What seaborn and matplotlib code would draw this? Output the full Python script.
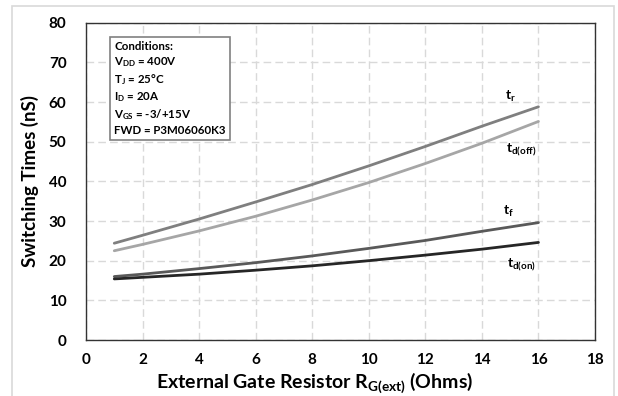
import matplotlib
matplotlib.use("Agg")
import matplotlib.pyplot as plt
import seaborn as sns
import pandas as pd
from matplotlib.patches import Rectangle

# Data
rg = [1, 2, 4, 6, 8, 10, 12, 14, 16]
t_r = [24.4, 26.4, 30.5, 34.8, 39.2, 43.9, 48.8, 53.9, 58.8]
t_doff = [22.5, 24.1, 27.5, 31.2, 35.3, 39.7, 44.5, 49.6, 55.1]
t_f = [16.0, 16.6, 18.0, 19.5, 21.2, 23.1, 25.1, 27.4, 29.6]
t_don = [15.4, 15.8, 16.6, 17.6, 18.7, 20.0, 21.4, 22.9, 24.6]
series_names = ["t_r", "t_d(off)", "t_f", "t_d(on)"]
x_ticks = list(range(0, 19, 2))
y_ticks = list(range(0, 81, 10))

df = pd.concat([
    pd.DataFrame({"rg": rg, "t": vals, "s": name})
    for name, vals in zip(series_names, [t_r, t_doff, t_f, t_don])
])

sns.set_theme(style="white")
FONT = "Lato"
plt.rcParams["font.family"] = [FONT, "DejaVu Sans"]
plt.rcParams["mathtext.fontset"] = "custom"
plt.rcParams["mathtext.rm"] = FONT + ":bold"
plt.rcParams["mathtext.it"] = FONT + ":bold"
plt.rcParams["mathtext.bf"] = FONT + ":bold"

fig = plt.figure(figsize=(6.18, 3.96), dpi=100)
ax = fig.add_axes([86 / 618, 56 / 396, 509 / 618, (340 - 22.7) / 396])

palette = {"t_r": "#7f7f7f", "t_d(off)": "#a6a6a6", "t_f": "#595959", "t_d(on)": "#262626"}
sns.lineplot(data=df, x="rg", y="t", hue="s", palette=palette, linewidth=2.0,
             legend=False, ax=ax, zorder=3)

ax.set_xlim(0, 18)
ax.set_ylim(0, 80)
ax.set_xticks(x_ticks)
ax.set_yticks(y_ticks)
ax.tick_params(axis="both", length=0, labelsize=11)
ax.tick_params(axis="x", pad=9)
ax.tick_params(axis="y", pad=14)
for lbl in ax.get_xticklabels() + ax.get_yticklabels():
    lbl.set_fontweight("bold")
    lbl.set_color("black")

ax.grid(True, color="#d9d9d9", linestyle=(0, (5.5, 3)), linewidth=1.0, zorder=0)
for sp in ax.spines.values():
    sp.set_color("#333333")
    sp.set_linewidth(1.0)

ax.set_xlabel("External Gate Resistor R$_{\\mathregular{G(ext)}}$ (Ohms)",
              fontsize=14, fontweight="bold", color="black")
ax.set_ylabel("Switching Times (nS)", fontsize=13.5, fontweight="bold", color="black")
ax.xaxis.set_label_coords(0.45, -0.095)
ax.yaxis.set_label_coords(-0.092, 0.5)

# Curve labels
lab_kw = dict(fontsize=10, fontweight="bold", color="black", ha="center", va="center")
ax.text(15.0, 61.3, "t$_{\\mathregular{r}}$", **lab_kw)
ax.text(15.4, 48.0, "t$_{\\mathregular{d(off)}}$", **lab_kw)
ax.text(14.95, 32.3, "t$_{\\mathregular{f}}$", **lab_kw)
ax.text(15.4, 18.9, "t$_{\\mathregular{d(on)}}$", **lab_kw)

# Conditions box
cond = ["Conditions:",
        "V$_{\\mathregular{DD}}$ = 400V",
        "T$_{\\mathregular{J}}$ = 25°C",
        "I$_{\\mathregular{D}}$ = 20A",
        "V$_{\\mathregular{GS}}$ = -3/+15V",
        "FWD = P3M06060K3"]
ax.text(1.0, 75.3, "\n".join(cond), fontsize=8.3, fontweight="bold", color="black",
        ha="left", va="top", linespacing=1.3,
        bbox=dict(boxstyle="square,pad=0.4", facecolor="white", edgecolor="#808080",
                  linewidth=1.2), zorder=5)

# Outer light border of the figure
fig.patches.append(Rectangle((12 / 618, -0.05), 602 / 618, (390 / 396) + 0.05,
                             transform=fig.transFigure, fill=False,
                             edgecolor="#d9d9d9", linewidth=1.2))

fig.savefig("out.png", dpi=100)
